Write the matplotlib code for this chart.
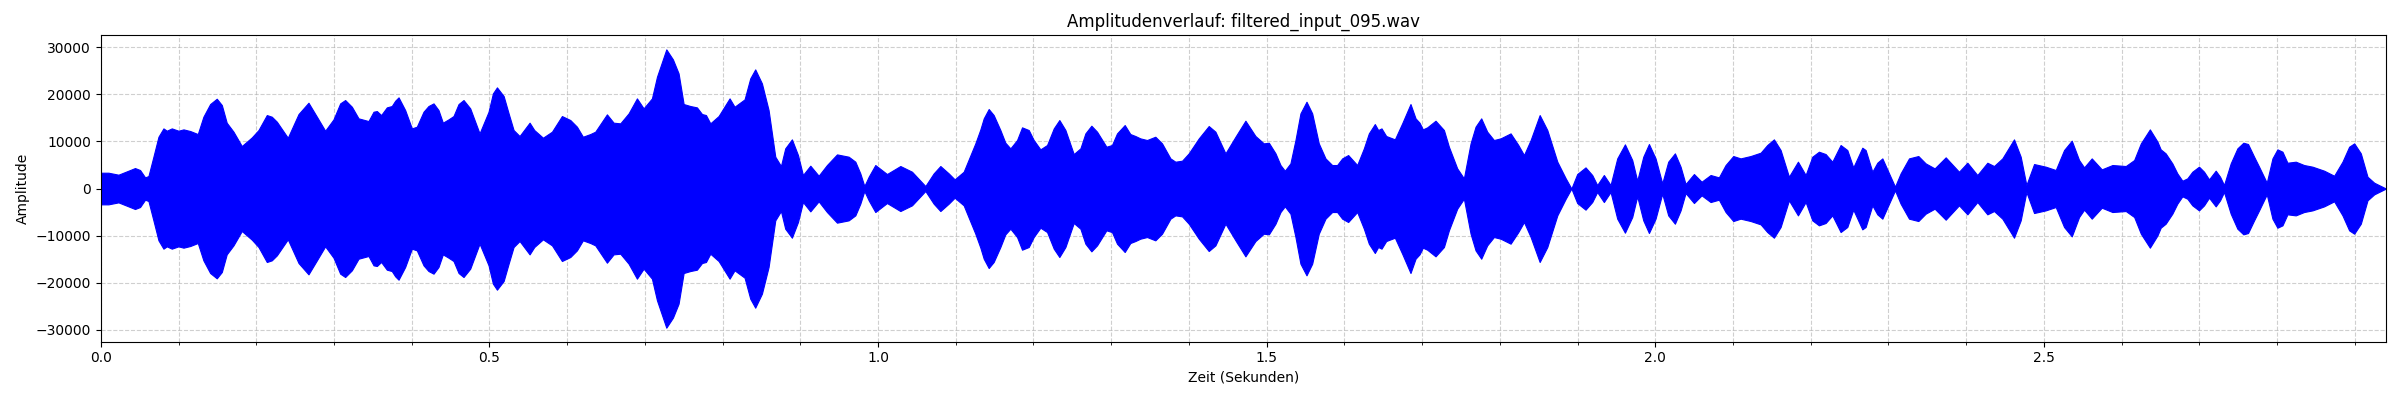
import numpy as np
from matplotlib import pyplot as plt
from matplotlib.ticker import MultipleLocator

# Huellkurve des Signals (obere Kante)
zeit = [0.0, 0.0098, 0.0227, 0.0356, 0.044, 0.0505, 0.057, 0.0613, 0.0677, 0.0742,
        0.0806, 0.0849, 0.0913, 0.0999, 0.1064, 0.115, 0.1248, 0.132, 0.1407, 0.1492,
        0.1557, 0.162, 0.1707, 0.1814, 0.1943, 0.2029, 0.2136, 0.22, 0.2265, 0.2406,
        0.2544, 0.2672, 0.278, 0.2887, 0.2994, 0.308, 0.3144, 0.323, 0.3316, 0.3444,
        0.3509, 0.3552, 0.3607, 0.368, 0.3744, 0.3788, 0.3831, 0.3916, 0.4002, 0.4066,
        0.4152, 0.4216, 0.4281, 0.4345, 0.4401, 0.4474, 0.4538, 0.4603, 0.4667, 0.4753,
        0.4873, 0.4989, 0.5045, 0.5097, 0.5183, 0.5247, 0.5311, 0.5388, 0.5517, 0.5577,
        0.5689, 0.5805, 0.5933, 0.6041, 0.6126, 0.6203, 0.6298, 0.6362, 0.6512, 0.6598,
        0.6684, 0.6791, 0.6898, 0.6984, 0.7091, 0.7156, 0.7276, 0.7361, 0.7434, 0.7499,
        0.7585, 0.767, 0.7735, 0.7786, 0.7842, 0.7949, 0.809, 0.8154, 0.8283, 0.8356,
        0.842, 0.8506, 0.8592, 0.8678, 0.8751, 0.8806, 0.8892, 0.897, 0.9034, 0.9129,
        0.9236, 0.9343, 0.9472, 0.9622, 0.9708, 0.9772, 0.9824, 0.988, 0.9965, 1.0115,
        1.0287, 1.0437, 1.0609, 1.0716, 1.0802, 1.0909, 1.0986, 1.1102, 1.1252, 1.1317,
        1.136, 1.1424, 1.1488, 1.1574, 1.1638, 1.1703, 1.1789, 1.1853, 1.1939, 1.2003,
        1.2089, 1.2175, 1.2261, 1.2333, 1.2411, 1.2518, 1.2604, 1.2668, 1.2745, 1.2818,
        1.2938, 1.301, 1.3075, 1.3174, 1.3246, 1.3311, 1.3375, 1.3461, 1.3568, 1.3654,
        1.3762, 1.3826, 1.3912, 1.3998, 1.4127, 1.4255, 1.4341, 1.447, 1.4599, 1.4727,
        1.4856, 1.4963, 1.5028, 1.5114, 1.5178, 1.5234, 1.5306, 1.5371, 1.5435, 1.5513,
        1.5586, 1.5671, 1.5757, 1.5843, 1.5907, 1.5972, 1.6049, 1.6165, 1.6251, 1.6315,
        1.6392, 1.6435, 1.6478, 1.6538, 1.665, 1.6744, 1.6851, 1.6916, 1.6967, 1.701,
        1.7066, 1.7173, 1.7281, 1.7345, 1.7452, 1.7538, 1.7624, 1.7688, 1.7761, 1.7838,
        1.7924, 1.801, 1.8139, 1.8238, 1.8311, 1.8397, 1.8513, 1.8611, 1.874, 1.8848,
        1.8921, 1.8996, 1.9103, 1.9189, 1.9253, 1.9339, 1.9425, 1.9511, 1.961, 1.9704,
        1.9768, 1.9846, 1.9919, 2.0004, 2.009, 2.0167, 2.0253, 2.0326, 2.039, 2.0498,
        2.0596, 2.0712, 2.0819, 2.0905, 2.1004, 2.1098, 2.1227, 2.1356, 2.1441, 2.1527,
        2.1613, 2.172, 2.1836, 2.1935, 2.2021, 2.2106, 2.2192, 2.2278, 2.2385, 2.2471,
        2.2548, 2.2664, 2.2707, 2.2793, 2.2857, 2.2922, 2.3008, 2.3085, 2.3157, 2.3265,
        2.3385, 2.3479, 2.3595, 2.3737, 2.3908, 2.4016, 2.4144, 2.4273, 2.4359, 2.4466,
        2.4616, 2.4702, 2.4775, 2.4874, 2.5024, 2.5153, 2.526, 2.5359, 2.5453, 2.5518,
        2.5616, 2.5745, 2.5882, 2.6054, 2.6162, 2.6248, 2.6364, 2.6462, 2.6503, 2.6567,
        2.6653, 2.6717, 2.6782, 2.6846, 2.691, 2.6996, 2.7061, 2.7125, 2.7211, 2.7267,
        2.7318, 2.7404, 2.749, 2.7567, 2.7627, 2.7705, 2.7769, 2.7868, 2.7941, 2.8005,
        2.807, 2.8134, 2.8241, 2.8348, 2.8456, 2.8606, 2.8735, 2.8842, 2.8928, 2.8993,
        2.9078, 2.9164, 2.925, 2.9397]

amplitude = [3360, 3360, 2940, 3790, 4350, 3930, 2370, 2650, 6760, 11000,
             12770, 12280, 12770, 12280, 12560, 12210, 11570, 15250, 17940, 19070,
             17730, 13980, 12070, 9020, 10860, 12420, 15600, 15250, 14190, 10790,
             15820, 18220, 15250, 12280, 14690, 18080, 18790, 17370, 14900, 14330,
             16310, 16450, 15600, 17230, 17520, 18650, 19360, 16660, 12770, 13130,
             16310, 17520, 18080, 16660, 13980, 14690, 15390, 17940, 18790, 17020,
             11710, 16310, 20200, 21480, 19640, 15960, 12420, 11150, 13980, 12420,
             10790, 12070, 15390, 14540, 13130, 11000, 11570, 12070, 15750, 13980,
             13840, 15960, 19140, 17020, 19140, 23740, 29550, 27420, 24450, 17940,
             17520, 17230, 15820, 15600, 13840, 15390, 19140, 17370, 18930, 23390,
             25300, 22330, 16660, 6760, 4780, 8530, 10440, 7110, 2870, 4850,
             2720, 4990, 7250, 6760, 5700, 3220, 530, 2510, 4990, 3080,
             4780, 3570, 530, 3220, 4780, 3220, 1950, 3570, 9590, 12560,
             14900, 16880, 15600, 12420, 9730, 8530, 10300, 12990, 12420, 10300,
             8320, 9240, 12770, 14540, 12420, 7320, 8530, 11710, 13340, 12070,
             8880, 9240, 11710, 13480, 11570, 11150, 10650, 10300, 11000, 9590,
             6400, 5700, 5910, 7470, 10650, 13270, 12070, 7470, 11000, 14400,
             11150, 9590, 9730, 7470, 4990, 3790, 5340, 10300, 15960, 18430,
             15960, 9590, 6400, 4990, 4990, 6400, 7110, 4990, 8530, 11710,
             13690, 12420, 12770, 11150, 10440, 13840, 17940, 14900, 13980, 12560,
             12990, 14400, 12420, 8880, 4280, 2160, 9590, 13130, 14900, 12070,
             10300, 10650, 11710, 9240, 7110, 10300, 15600, 12420, 5700, 2160,
             0, 3080, 4490, 2870, 740, 2870, 740, 6400, 9380, 6050,
             1660, 6760, 9450, 6400, 1100, 5700, 7470, 4640, 960, 3080,
             1450, 2870, 2370, 4990, 6900, 6400, 6900, 7610, 9240, 10440,
             8170, 2510, 5700, 2870, 6760, 7820, 7320, 5700, 9240, 8170,
             4490, 8670, 8170, 3570, 5480, 6400, 3220, 390, 3220, 6400,
             6900, 5340, 4280, 6620, 3570, 5480, 2870, 5480, 4780, 6400,
             10440, 6760, 740, 5200, 4640, 3930, 8170, 10160, 6050, 4490,
             6400, 4070, 4990, 4780, 6050, 9590, 12560, 9940, 8320, 7470,
             5340, 3220, 1660, 2160, 3570, 4640, 3570, 1950, 3790, 2510,
             740, 5340, 8530, 9730, 9450, 6760, 4640, 1240, 6400, 8320,
             7820, 5480, 5700, 4990, 4640, 3790, 2720, 5700, 8880, 9590,
             7470, 2510, 1240, 40]

t = np.array(zeit)
oben = np.array(amplitude)
unten = -oben  # Signal ist nahezu symmetrisch um 0

fig = plt.figure(figsize=(24, 4), dpi=100)
ax = plt.axes()
fig.subplots_adjust(left=0.042, right=0.994, top=0.9125, bottom=0.146)

ax.fill_between(t, unten, oben, color='blue', linewidth=0.8, edgecolor='blue')

ax.set_xlim(0, t[-1])
ax.set_ylim(-32500, 32600)
ax.xaxis.set_minor_locator(MultipleLocator(0.1))
ax.set_axisbelow(True)  # Gitter hinter dem Signal
ax.grid(True, which='both', linestyle='--', alpha=0.6)

ax.set_title("Amplitudenverlauf: filtered_input_095.wav")
ax.set_xlabel("Zeit (Sekunden)")
ax.set_ylabel("Amplitude")

plt.savefig("out.png", dpi=100)
